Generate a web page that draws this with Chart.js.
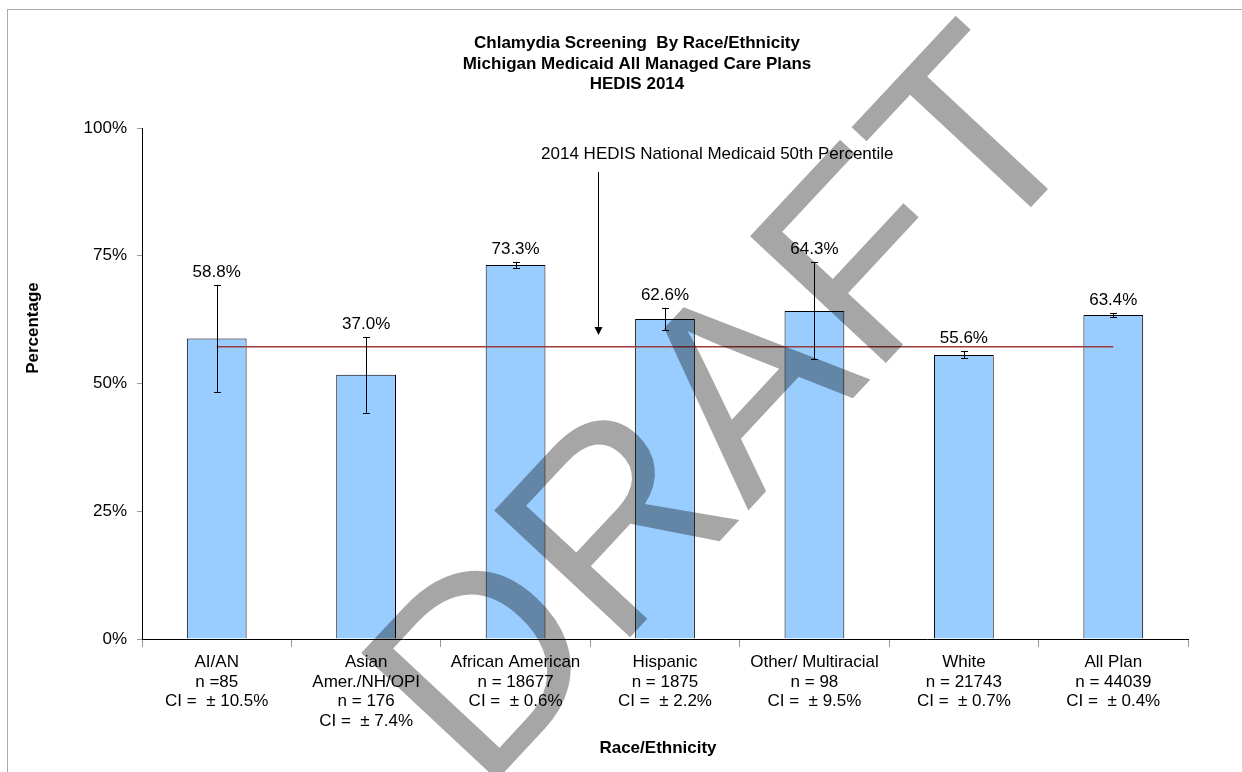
<!DOCTYPE html>
<html><head><meta charset="utf-8">
<script src="https://cdn.jsdelivr.net/npm/chart.js@4.4.1/dist/chart.umd.min.js"></script>
<style>html,body{margin:0;padding:0;background:#fff;overflow:hidden;} canvas{display:block;}</style>
</head><body>
<canvas id="c" width="1242" height="772"></canvas>
<script>
// ---- data ----
const categories = [
  ["AI/AN", "n =85", "CI =  \u00B1 10.5%"],
  ["Asian", "Amer./NH/OPI", "n = 176", "CI =  \u00B1 7.4%"],
  ["African American", "n = 18677", "CI =  \u00B1 0.6%"],
  ["Hispanic", "n = 1875", "CI =  \u00B1 2.2%"],
  ["Other/ Multiracial", "n = 98", "CI =  \u00B1 9.5%"],
  ["White", "n = 21743", "CI =  \u00B1 0.7%"],
  ["All Plan", "n = 44039", "CI =  \u00B1 0.4%"]
];
const barValues = [58.8, 51.7, 73.2, 62.6, 64.2, 55.6, 63.4];
const ciValues = [10.5, 7.4, 0.6, 2.2, 9.5, 0.7, 0.4];
const valueLabels = ["58.8%", "37.0%", "73.3%", "62.6%", "64.3%", "55.6%", "63.4%"];
const benchmarkValues = [57.2, 57.2, 57.2, 57.2, 57.2, 57.2, 57.2];
const yTickValues = [0, 25, 50, 75, 100];
const titleLines = ["Chlamydia Screening  By Race/Ethnicity", "Michigan Medicaid All Managed Care Plans", "HEDIS 2014"];
const benchmarkNote = "2014 HEDIS National Medicaid 50th Percentile";
const xTitle = "Race/Ethnicity";
const yTitle = "Percentage";
const watermark = "DRAFT";

const FONT = '"Liberation Sans", Arial, Helvetica, sans-serif';
Chart.defaults.font.family = FONT;
Chart.defaults.color = '#000';

const decor = {
  id: 'decor',
  beforeDraw(chart) {
    const ctx = chart.ctx;
    ctx.save();
    ctx.fillStyle = '#fff';
    ctx.fillRect(0, 0, chart.width, chart.height);
    ctx.strokeStyle = '#aaaaaa';
    ctx.lineWidth = 1;
    ctx.strokeRect(7.5, 9.5, 1400, 1000);
    ctx.restore();
  },
  afterDatasetsDraw(chart) {
    const ctx = chart.ctx;
    const xs = chart.scales.x, ys = chart.scales.y;
    ctx.save();
    // error bars
    ctx.strokeStyle = '#000';
    ctx.lineWidth = 1;
    barValues.forEach((v, i) => {
      const x = Math.round(xs.getPixelForValue(i)) + 0.5;
      const yt = ys.getPixelForValue(v + ciValues[i]);
      const yb = ys.getPixelForValue(v - ciValues[i]);
      ctx.beginPath();
      ctx.moveTo(x, yt); ctx.lineTo(x, yb);
      ctx.moveTo(x - 3.5, Math.round(yt) + 0.5); ctx.lineTo(x + 3.5, Math.round(yt) + 0.5);
      ctx.moveTo(x - 3.5, Math.round(yb) + 0.5); ctx.lineTo(x + 3.5, Math.round(yb) + 0.5);
      ctx.stroke();
    });
    // value labels
    ctx.fillStyle = '#000';
    ctx.font = '17px ' + FONT;
    ctx.textAlign = 'center';
    ctx.textBaseline = 'middle';
    barValues.forEach((v, i) => {
      const x = xs.getPixelForValue(i);
      const yt = ys.getPixelForValue(v + ciValues[i]);
      ctx.fillText(valueLabels[i], x, yt - 13);
    });
    // benchmark note + arrow
    const ax = Math.round(xs.getPixelForValue(2.55)) + 0.5;
    const aTop = ys.getPixelForValue(91.4);
    const aTip = ys.getPixelForValue(59.5);
    ctx.beginPath();
    ctx.moveTo(ax, aTop); ctx.lineTo(ax, aTip - 6);
    ctx.stroke();
    ctx.beginPath();
    ctx.moveTo(ax - 4, aTip - 8); ctx.lineTo(ax + 4, aTip - 8); ctx.lineTo(ax, aTip);
    ctx.closePath(); ctx.fill();
    ctx.fillText(benchmarkNote, xs.getPixelForValue(3.35), ys.getPixelForValue(94.9));
    ctx.restore();
  },
  afterDraw(chart) {
    const ctx = chart.ctx;
    ctx.save();
    ctx.fillStyle = '#000';
    ctx.textAlign = 'center';
    ctx.textBaseline = 'middle';
    ctx.font = 'bold 17px ' + FONT;
    const tops = [43, 64, 84.5];
    titleLines.forEach((t, i) => ctx.fillText(t, 637, tops[i]));
    ctx.fillText(xTitle, 658, 748);
    ctx.save();
    ctx.translate(33, 328);
    ctx.rotate(-Math.PI / 2);
    ctx.fillText(yTitle, 0, 0);
    ctx.restore();
    // watermark
    ctx.translate(482, 796);
    ctx.rotate(-47 * Math.PI / 180);
    ctx.font = '270px ' + FONT;
    ctx.textAlign = 'left';
    ctx.textBaseline = 'alphabetic';
    ctx.fillStyle = 'rgba(0,0,0,0.35)';
    ctx.fillText(watermark, 0, 0);
    ctx.restore();
  }
};

new Chart(document.getElementById('c'), {
  type: 'bar',
  data: {
    labels: categories,
    datasets: [
      {
        type: 'line',
        data: benchmarkValues,
        borderColor: '#9b3b3b',
        borderWidth: 1.6,
        pointRadius: 0,
        fill: false,
        order: 0
      },
      {
        type: 'bar',
        data: barValues,
        backgroundColor: '#99ccff',
        borderColor: '#000',
        borderWidth: 1,
        barPercentage: 0.4,
        categoryPercentage: 1.0,
        order: 1
      }
    ]
  },
  options: {
    responsive: false,
    animation: false,
    devicePixelRatio: 1,
    layout: { padding: { left: 0, top: 128, right: 54, bottom: 0 } },
    plugins: { legend: { display: false }, title: { display: false }, tooltip: { enabled: false } },
    scales: {
      x: {
        grid: { display: true, drawOnChartArea: false, drawTicks: true, tickLength: 8, color: '#999', offset: true },
        border: { display: true, color: '#000', width: 1 },
        ticks: { color: '#000', font: { size: 17, lineHeight: 1.14 }, padding: 6, maxRotation: 0, autoSkip: false },
        afterFit(s) { s.height = 133; }
      },
      y: {
        min: 0, max: 100,
        afterBuildTicks(s) { s.ticks = yTickValues.map(v => ({ value: v })); },
        grid: { display: true, drawOnChartArea: false, drawTicks: true, tickLength: 5, color: '#999' },
        border: { display: true, color: '#000', width: 1 },
        ticks: { color: '#000', font: { size: 17 }, padding: 10, callback: v => v + '%' },
        afterFit(s) { s.width = 142; }
      }
    }
  },
  plugins: [decor]
});
</script>
</body></html>
